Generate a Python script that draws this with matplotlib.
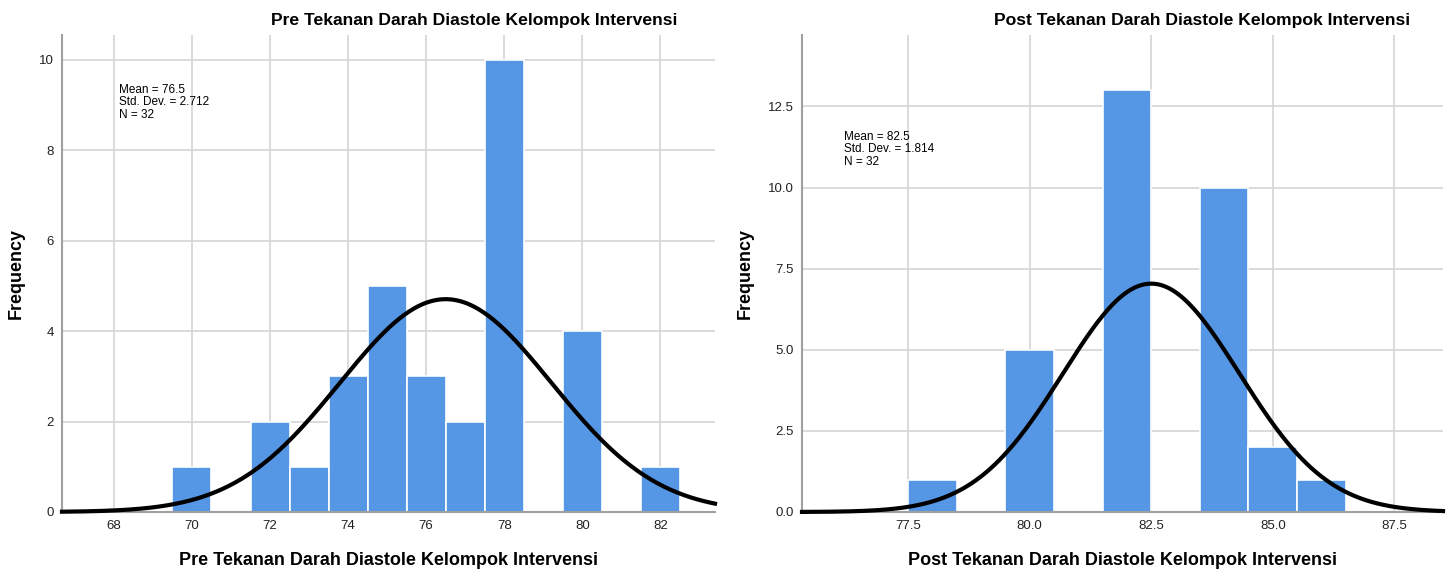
import numpy as np
import matplotlib.pyplot as plt
from matplotlib.ticker import FormatStrFormatter

plt.rcParams['font.family'] = ['Liberation Sans', 'DejaVu Sans']

# Pre (left panel)
pre_values = [70, 72, 73, 74, 75, 76, 77, 78, 80, 82]
pre_counts = [1, 2, 1, 3, 5, 3, 2, 10, 4, 1]
pre_mean, pre_sd, pre_n = 76.5, 2.712, 32

# Post (right panel)
post_values = [78, 80, 82, 84, 85, 86]
post_counts = [1, 5, 13, 10, 2, 1]
post_mean, post_sd, post_n = 82.5, 1.814, 32

pre_title = 'Pre Tekanan Darah Diastole Kelompok Intervensi'
post_title = 'Post Tekanan Darah Diastole Kelompok Intervensi'

bar_color = '#5596e5'
grid_color = '#d4d4d4'
spine_color = '#a0a0a0'

W, H = 1451, 572
fig = plt.figure(figsize=(W / 100, H / 100), dpi=100)


def px_axes(x0, y0, x1, y1):
    return fig.add_axes([x0 / W, 1 - y1 / H, (x1 - x0) / W, (y1 - y0) / H])


def draw_hist(ax, values, counts, mean, sd, n, xlim, ylim, xticks, yticks, fmt):
    ax.set_xlim(*xlim)
    ax.set_ylim(*ylim)
    ax.set_xticks(xticks)
    ax.set_yticks(yticks)
    if fmt:
        ax.xaxis.set_major_formatter(FormatStrFormatter(fmt))
        ax.yaxis.set_major_formatter(FormatStrFormatter(fmt))
    ax.grid(True, color=grid_color, linewidth=1.2, zorder=0)
    ax.set_axisbelow(True)
    ax.bar(values, counts, width=1.0, color=bar_color, edgecolor='white',
           linewidth=1.2, zorder=2)
    # fitted normal curve
    xs = np.linspace(xlim[0], xlim[1], 400)
    ys = n * np.exp(-0.5 * ((xs - mean) / sd) ** 2) / (sd * np.sqrt(2 * np.pi))
    ax.plot(xs, ys, color='black', linewidth=3, zorder=3, clip_on=False)
    for side in ['top', 'right']:
        ax.spines[side].set_visible(False)
    for side in ['left', 'bottom']:
        ax.spines[side].set_color(spine_color)
        ax.spines[side].set_linewidth(1.5)
    ax.tick_params(length=0, labelsize=9.5, pad=6, colors='#222222')
    ax.set_ylabel('Frequency', fontsize=13, fontweight='bold', labelpad=10)


ax1 = px_axes(62, 35, 715, 512)
draw_hist(ax1, pre_values, pre_counts, pre_mean, pre_sd, pre_n,
          (66.67, 83.4), (0, 10.55), np.arange(68, 83, 2), np.arange(0, 11, 2), None)
ax1.set_xlabel(pre_title, fontsize=13, fontweight='bold', labelpad=14)

ax2 = px_axes(802, 35, 1443, 512)
draw_hist(ax2, post_values, post_counts, post_mean, post_sd, post_n,
          (75.32, 88.5), (0, 14.7), [77.5, 80.0, 82.5, 85.0, 87.5],
          np.arange(0, 13.0, 2.5), '%.1f')
ax2.set_xlabel(post_title, fontsize=13, fontweight='bold', labelpad=14)

fig.text(474 / W, 1 - 20 / H, pre_title, fontsize=12.6, fontweight='bold', ha='center', va='center')
fig.text(1202 / W, 1 - 20 / H, post_title, fontsize=12.6, fontweight='bold', ha='center', va='center')

stats = 'Mean = %.1f\nStd. Dev. = %.3f\nN = %d'
fig.text(119 / W, 1 - 84 / H, stats % (pre_mean, pre_sd, pre_n),
         fontsize=8.5, va='top', ha='left', linespacing=1.05)
fig.text(844 / W, 1 - 131 / H, stats % (post_mean, post_sd, post_n),
         fontsize=8.5, va='top', ha='left', linespacing=1.05)

fig.savefig('out.png', dpi=100)
